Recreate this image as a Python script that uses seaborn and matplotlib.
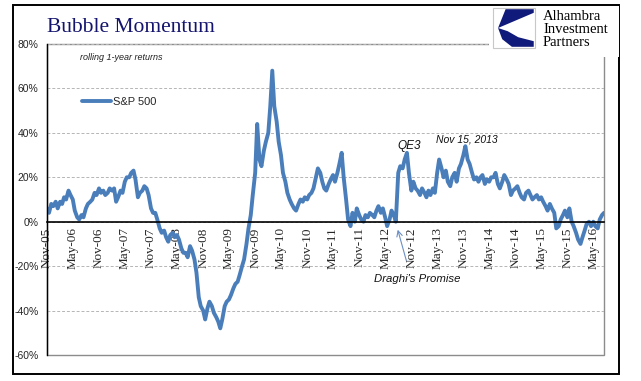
import pandas as pd
import matplotlib.pyplot as plt
import seaborn as sns
from matplotlib.patches import Rectangle, Polygon
from matplotlib.transforms import IdentityTransform

# rolling 1-year S&P 500 returns (%), two readings per month (1st, 15th), Nov-2005 .. Jul-2016
ret_2005 = [6, 4, 8, 7]
ret_2006 = [9, 6, 9, 8, 11, 10, 14, 12, 10, 5, 2, 1, 3, 2, 6, 8, 9, 10, 13, 12, 15, 13, 14, 12]
ret_2007 = [13, 15, 14, 15, 9, 11, 14, 13, 18, 20, 20, 22, 23, 19, 11, 13, 14, 16, 15, 12, 6, 4, 4, 1]
ret_2008 = [-3, -5, -4, -7, -9, -6, -5, -7, -6, -8, -12, -14, -14, -16, -11, -13, -17, -23, -34, -38, -40, -44, -39, -36]
ret_2009 = [-38, -41, -43, -45, -48, -44, -38, -36, -35, -33, -30, -28, -27, -24, -20, -17, -10, -3, 3, 12, 22, 44, 28, 25]
ret_2010 = [32, 36, 40, 52, 68, 52, 45, 36, 30, 22, 18, 13, 10, 8, 6, 5, 8, 10, 9, 11, 10, 12, 13, 15]
ret_2011 = [20, 24, 22, 18, 15, 14, 17, 19, 21, 18, 22, 26, 31, 20, 10, 1, -2, 4, 0, 6, 3, 1, 0, 3]
ret_2012 = [2, 4, 3, 2, 5, 7, 4, 6, 2, -2, 1, 5, 3, 0, 22, 25, 24, 28, 31, 22, 14, 18, 15, 14]
ret_2013 = [12, 15, 13, 11, 14, 12, 15, 13, 22, 28, 24, 20, 23, 18, 16, 20, 22, 18, 24, 26, 30, 34, 28, 26]
ret_2014 = [22, 19, 20, 18, 20, 21, 17, 19, 18, 20, 20, 22, 17, 15, 18, 21, 19, 17, 12, 14, 15, 16, 13, 11]
ret_2015 = [10, 13, 14, 12, 10, 11, 12, 10, 11, 9, 7, 5, 8, 6, 4, -3, -2, 1, 3, 5, 2, 6, 0, -2]
ret_2016 = [-5, -8, -10, -7, -4, -1, 0, -2, 0, -2, -3, 1, 3, 4]

returns = (ret_2005 + ret_2006 + ret_2007 + ret_2008 + ret_2009 + ret_2010 +
           ret_2011 + ret_2012 + ret_2013 + ret_2014 + ret_2015 + ret_2016)

months = pd.date_range('2005-11-01', '2016-07-01', freq='MS')
dates = []
for m in months:
    dates += [m, m + pd.Timedelta(days=14)]

df = pd.DataFrame({'date': dates, 'ret': returns})

tick_dates = pd.date_range('2005-11-01', '2016-05-01', freq='6MS')
tick_labels = [d.strftime('%b-%y') for d in tick_dates]
y_ticks = [-60, -40, -20, 0, 20, 40, 60, 80]

line_color = '#4a7ebb'

sns.set_style('white')
plt.rcParams['font.family'] = ['Liberation Sans', 'DejaVu Sans']

fig = plt.figure(figsize=(6.41, 3.81), dpi=100)
ax = fig.add_axes([47 / 641, 1 - 355 / 381, 557 / 641, 311 / 381])

sns.lineplot(data=df, x='date', y='ret', ax=ax, color=line_color, lw=2.8, label='S&P 500')

ax.set_ylim(-60, 80)
ax.set_xlim(dates[0], dates[-1])
ax.set_xlabel('')
ax.set_ylabel('')

# spines first: moving a spine resets the ticks
for s in ['top', 'right']:
    ax.spines[s].set_visible(False)
ax.spines['left'].set_color('black')
ax.spines['left'].set_linewidth(1)
ax.spines['bottom'].set_position(('data', 0))
ax.spines['bottom'].set_color('black')
ax.spines['bottom'].set_linewidth(1.2)

ax.yaxis.grid(True, ls=(0, (3, 2)), color='#b5b5b5', lw=0.7)
ax.xaxis.grid(False)
ax.tick_params(axis='y', direction='out', length=4, width=0.8, pad=2, color='black')
ax.tick_params(axis='x', direction='out', length=3, width=0.8, pad=1, color='black',
               labelrotation=90)

ax.set_yticks(y_ticks)
ax.set_yticklabels([f'{v}%' for v in y_ticks], fontsize=7.5)
ax.set_xticks(tick_dates)
ax.set_xticklabels(tick_labels, fontsize=9.5, family='Liberation Serif')

# plot area border (gray)
ax.add_patch(Rectangle((0, 0), 1, 1, transform=ax.transAxes, fill=False,
                       ec='#8c8c8c', lw=1, clip_on=False, zorder=0.5))

ax.legend(loc='upper left', bbox_to_anchor=(0.063, 0.83), frameon=False,
          handlelength=2.6, handletextpad=0.2, borderpad=0, borderaxespad=0,
          fontsize=8)

# outer frame
fig.patches.append(Rectangle((13 / 641, 1 - 374 / 381), 606 / 641, 369 / 381,
                             transform=fig.transFigure, fill=False, ec='black', lw=1.4))

# title and notes
fig.text(47 / 641, 1 - 32 / 381, 'Bubble Momentum', family='Liberation Serif',
         fontsize=15.5, color='#14146e', va='baseline', ha='left')
fig.text(80 / 641, 1 - 58 / 381, 'rolling 1-year returns', fontsize=6.5,
         style='italic', va='center', ha='left', color='#222222')
fig.text(409 / 641, 1 - 146 / 381, 'QE3', fontsize=8.5, style='italic',
         va='center', ha='center', color='#111111')
fig.text(467 / 641, 1 - 140 / 381, 'Nov 15, 2013', fontsize=7.5, style='italic',
         va='center', ha='center', color='#111111')
fig.text(417 / 641, 1 - 279 / 381, "Draghi's Promise", fontsize=8.2, style='italic',
         va='center', ha='center', color='#111111')
ax.annotate('', xy=(397, 381 - 227), xytext=(407, 381 - 263),
            xycoords='figure pixels', textcoords='figure pixels',
            arrowprops=dict(arrowstyle='->', color='#6b8fc4', lw=0.8))

# logo block
ident = IdentityTransform()
fig.patches.append(Rectangle((489, 381 - 57), 130, 51, transform=ident,
                             fc='white', ec='none', zorder=5))
x0, y0, s = 493, 381 - 48, 42
fig.patches.append(Rectangle((x0, y0), s, s - 2, transform=ident, fc='white',
                             ec='#c8c8c8', lw=0.8, zorder=6))
upper = [(0.3, 0.97), (0.97, 0.97), (0.97, 0.88), (0.12, 0.5)]
lower = [(0.12, 0.5), (0.35, 0.42), (0.6, 0.27), (0.97, 0.17), (0.97, 0.03),
         (0.45, 0.03), (0.22, 0.22)]
for shape in (upper, lower):
    fig.patches.append(Polygon([(x0 + u * s, y0 + v * (s - 2)) for u, v in shape],
                               closed=True, transform=ident, fc='#101a7a',
                               ec='none', zorder=7))
for i, word in enumerate(['Alhambra', 'Investment', 'Partners']):
    fig.text(543 / 641, 1 - (16 + 13.5 * i) / 381, word, family='Liberation Serif',
             fontsize=10.5, va='center', ha='left', color='black', zorder=8)

fig.savefig('out.png', dpi=100)
